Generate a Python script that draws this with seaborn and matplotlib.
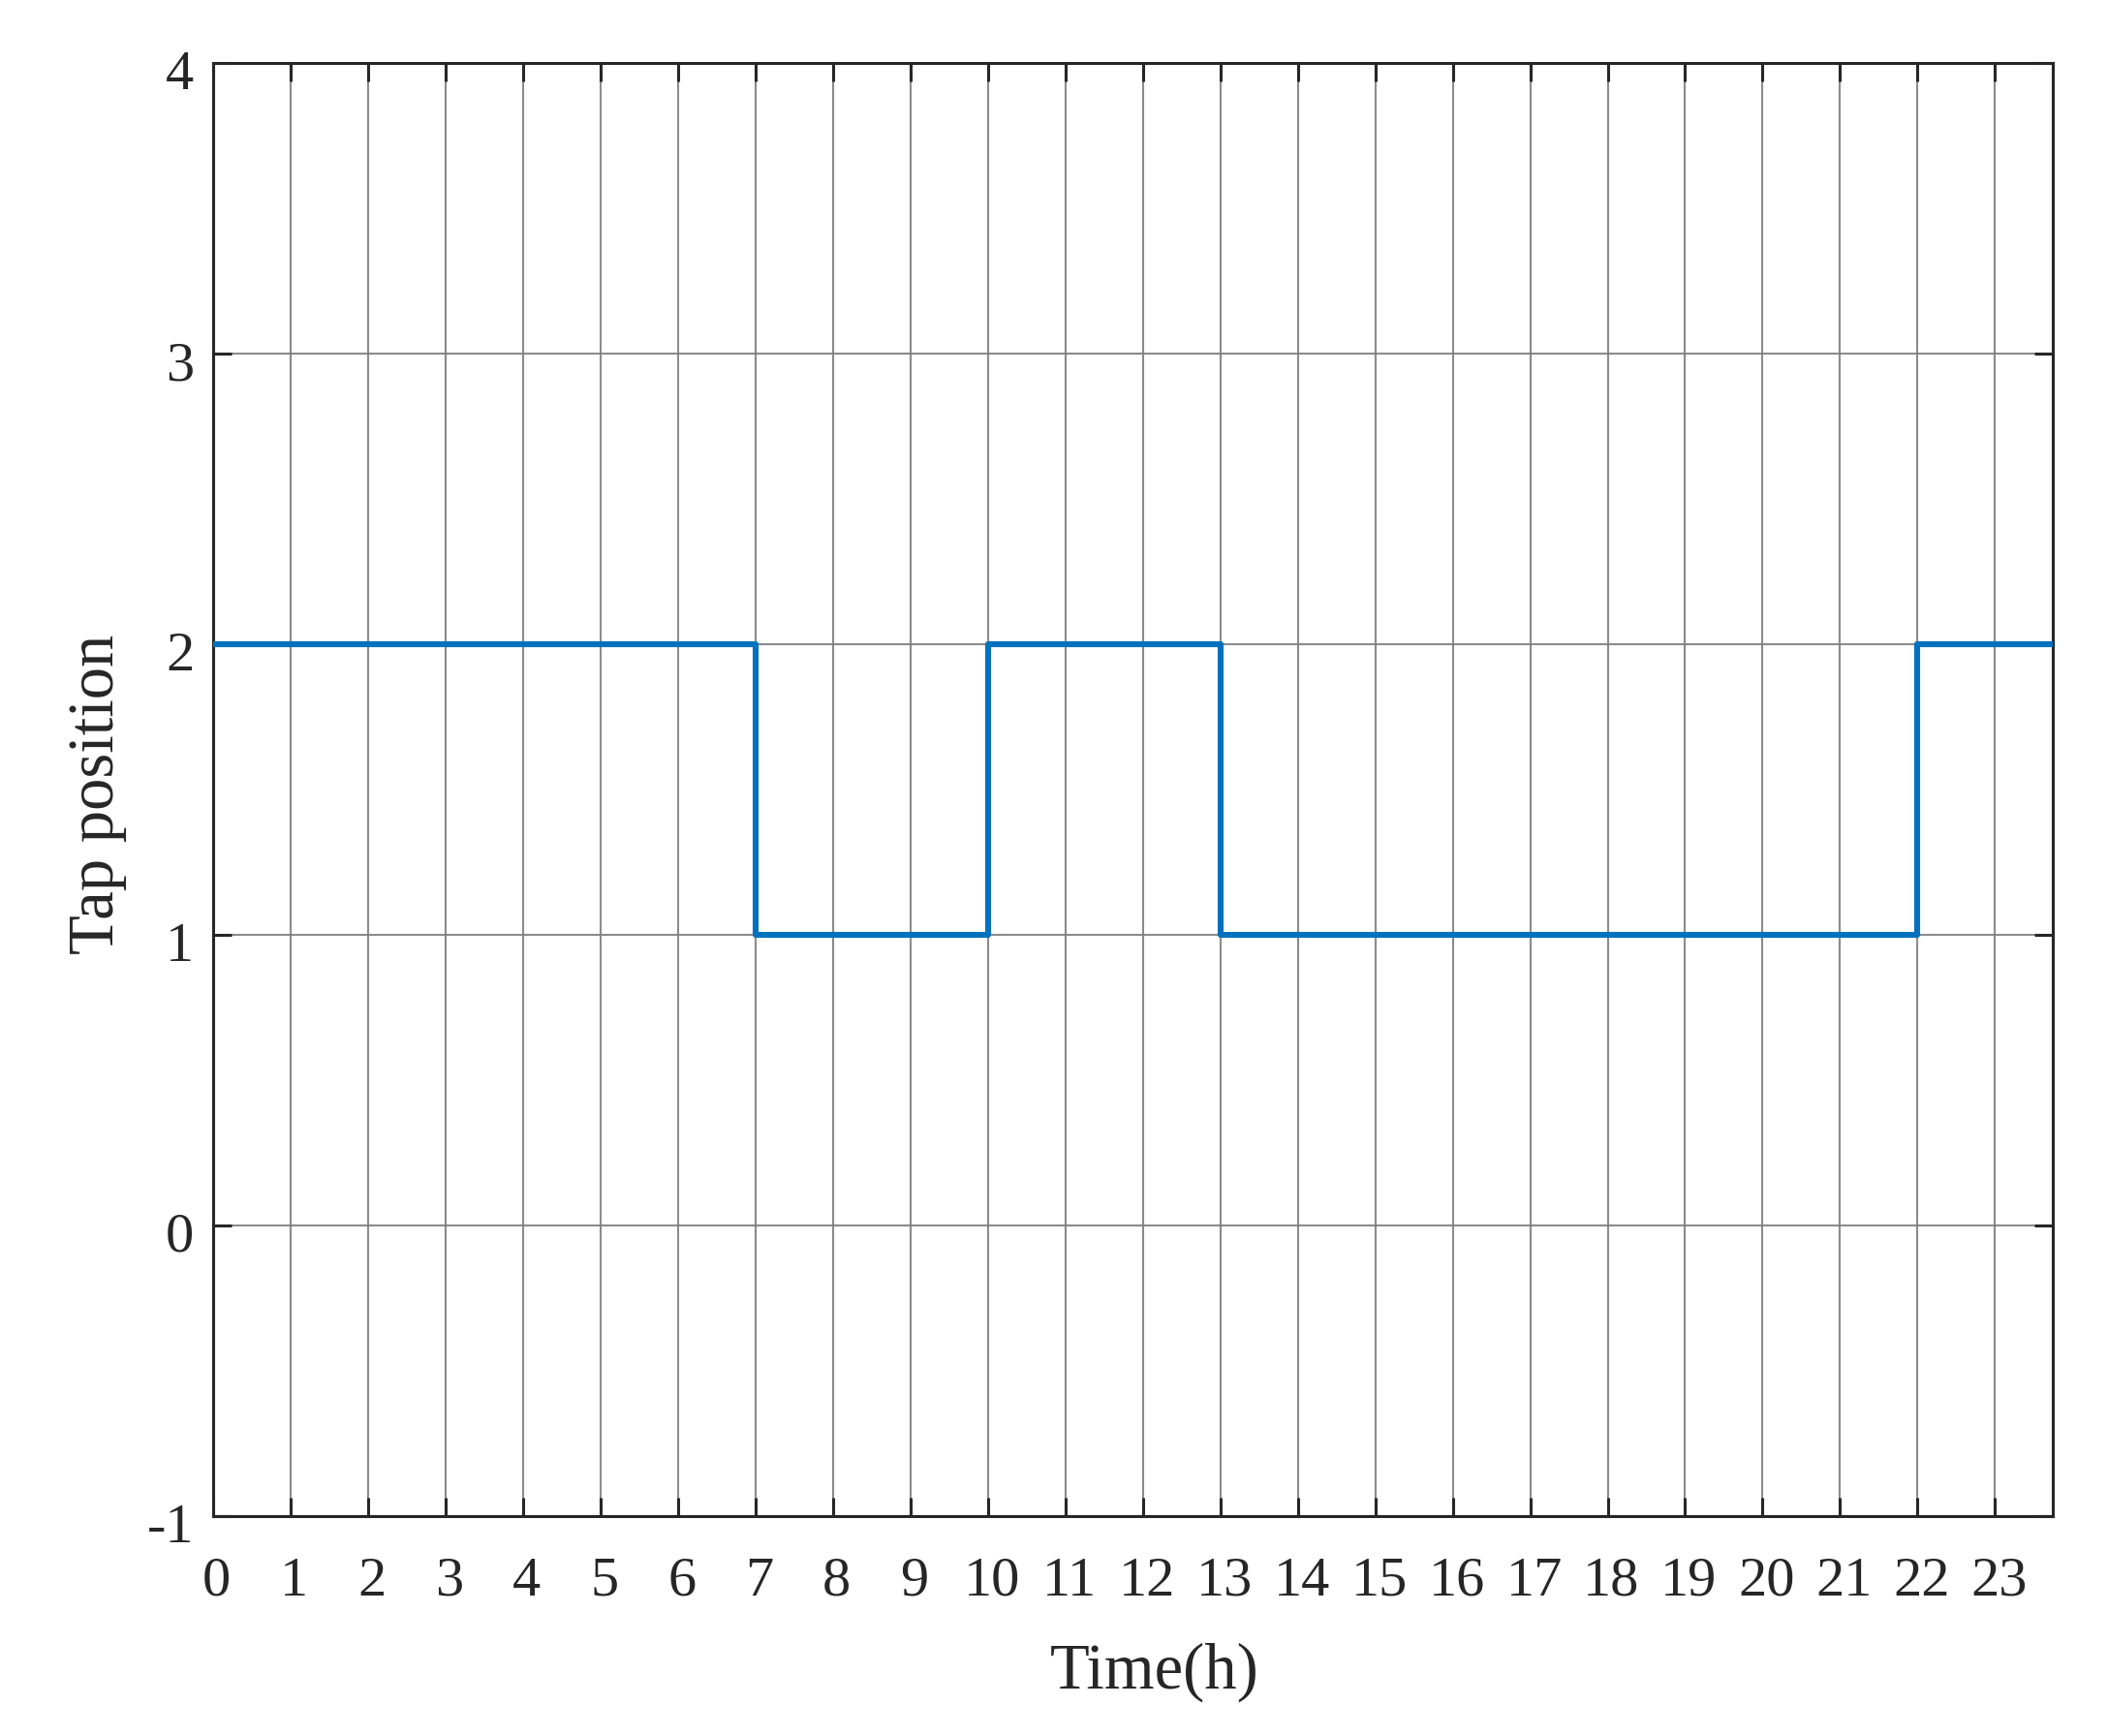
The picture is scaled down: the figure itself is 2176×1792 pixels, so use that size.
import pandas as pd
import seaborn as sns
import matplotlib.pyplot as plt
from matplotlib.transforms import ScaledTranslation

# hourly tap positions, last entry closes the step at the end of the day
hours = [0, 1, 2, 3, 4, 5, 6, 7, 8, 9, 10, 11, 12, 13, 14, 15, 16, 17,
         18, 19, 20, 21, 22, 23, 23.75]
tap = [2, 2, 2, 2, 2, 2, 2, 1, 1, 1, 2, 2, 2, 1, 1, 1, 1, 1,
       1, 1, 1, 1, 2, 2, 2]
x_ticks = list(range(24))
y_ticks = [-1, 0, 1, 2, 3, 4]

sns.set_theme(style='ticks', rc={
    'xtick.direction': 'in', 'ytick.direction': 'in',
    'xtick.top': True, 'ytick.right': True,
    'xtick.major.size': 7, 'ytick.major.size': 7,
    'xtick.major.width': 1.1, 'ytick.major.width': 1.1,
    'axes.linewidth': 1.1, 'axes.edgecolor': '#262626',
    'xtick.color': '#262626', 'ytick.color': '#262626',
    'axes.unicode_minus': False,
})
plt.rcParams['font.family'] = ['Liberation Serif', 'DejaVu Serif']

df = pd.DataFrame({'Time': hours, 'Tap': tap})

fig = plt.figure(figsize=(10.88, 8.96), dpi=200)
ax = fig.add_axes([0.101, 0.1267, 0.873, 0.837])
sns.lineplot(data=df, x='Time', y='Tap', ax=ax, color='#0072BD',
             linewidth=2.2, drawstyle='steps-post', zorder=3)

ax.set_xlim(0, 23.75)
ax.set_ylim(-1, 4)
ax.set_xticks(x_ticks)
ax.set_yticks(y_ticks)
ax.grid(True, color='#7f7f7f', linewidth=0.75, alpha=0.9)
ax.tick_params(axis='x', labelsize=21, pad=15)
ax.tick_params(axis='y', labelsize=21, pad=7)

# matlab-like small offsets of the tick labels
for lab in ax.get_xticklabels():
    lab.set_transform(lab.get_transform()
                      + ScaledTranslation(4 / 200, 0, fig.dpi_scale_trans))
for lab in ax.get_yticklabels():
    lab.set_transform(lab.get_transform()
                      + ScaledTranslation(0, -7 / 200, fig.dpi_scale_trans))

ax.set_xlabel('Time(h)', fontsize=24)
ax.set_ylabel('Tap position', fontsize=24)
ax.xaxis.set_label_coords(0.5116, -0.087)
ax.yaxis.set_label_coords(-0.0465, 0.497)

fig.savefig('out.png', dpi=200)
